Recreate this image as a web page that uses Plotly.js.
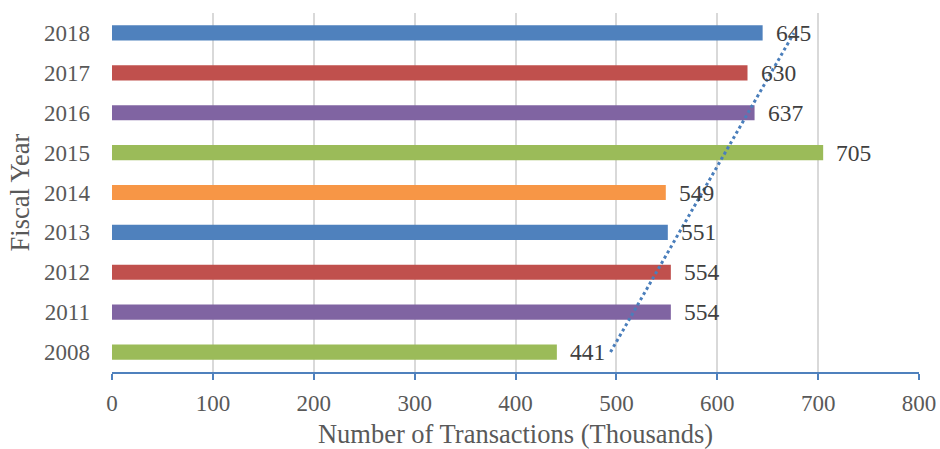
<!DOCTYPE html>
<html>
<head>
<meta charset="utf-8">
<script src="https://cdn.plot.ly/plotly-3.0.1.min.js"></script>
<style>html,body{margin:0;padding:0;background:#fff;} #chart{width:940px;height:449px;}</style>
</head>
<body>
<div id="chart"></div>
<script>
const years = ['2008', '2011', '2012', '2013', '2014', '2015', '2016', '2017', '2018'];
const transactions = [441, 554, 554, 551, 549, 705, 637, 630, 645];
const barColors = ['#9bbb59', '#8064a2', '#c0504d', '#4f81bd', '#f79646', '#9bbb59', '#8064a2', '#c0504d', '#4f81bd'];
const xTicks = [0, 100, 200, 300, 400, 500, 600, 700, 800];

// category positions (index of each fiscal year on the axis)
const pos = years.map((_, i) => i);

// Linear trendline (least squares over category index), like Excel's trendline
const n = transactions.length;
const mx = pos.reduce((a, b) => a + b, 0) / n;
const my = transactions.reduce((a, b) => a + b, 0) / n;
let sxy = 0, sxx = 0;
pos.forEach((i) => { sxy += (i - mx) * (transactions[i] - my); sxx += (i - mx) * (i - mx); });
const slope = sxy / sxx;
const intercept = my - slope * mx;
const trend = pos.map(i => intercept + slope * i);

const font = 'Liberation Serif, Times New Roman, serif';

const data = [
  {
    type: 'bar', orientation: 'h', y: pos, x: transactions,
    marker: {color: barColors}, width: 0.38
  },
  {
    type: 'scatter', mode: 'lines', y: pos, x: trend,
    line: {color: '#4a7ebb', width: 3, dash: 'dot'}
  }
];

const annotations = pos.map((p, i) => ({
  x: transactions[i], y: p, xref: 'x', yref: 'y',
  text: String(transactions[i]), showarrow: false,
  xanchor: 'left', yanchor: 'middle', xshift: 11,
  font: {family: font, size: 23.5, color: '#404040'}
}));

const layout = {
  width: 940, height: 449,
  margin: {l: 112, r: 21, t: 13, b: 77},
  paper_bgcolor: '#fff', plot_bgcolor: '#fff',
  showlegend: false,
  font: {family: font, color: '#595959'},
  xaxis: {
    range: [0, 800], tickvals: xTicks, ticktext: xTicks.map(String),
    showgrid: true, gridcolor: '#d9d9d9', gridwidth: 2,
    zeroline: false,
    showline: true, linecolor: '#4f81bd', linewidth: 2,
    ticks: 'outside', ticklen: 6, tickwidth: 2, tickcolor: '#4f81bd',
    ticklabelstandoff: 3,
    tickfont: {family: font, size: 23, color: '#595959'},
    title: {text: 'Number of Transactions (Thousands)', font: {family: font, size: 26.5, color: '#595959'}, standoff: 12},
    fixedrange: true
  },
  yaxis: {
    range: [-0.5, 8.5],
    tickvals: pos, ticktext: years,
    showgrid: false, zeroline: false, showline: false,
    ticks: '', ticklabelstandoff: 21,
    tickfont: {family: font, size: 23, color: '#595959'},
    title: {text: 'Fiscal Year', font: {family: font, size: 26.5, color: '#595959'}, standoff: 6},
    fixedrange: true
  },
  annotations: annotations
};

Plotly.newPlot('chart', data, layout, {displayModeBar: false, staticPlot: true});
</script>
</body>
</html>
